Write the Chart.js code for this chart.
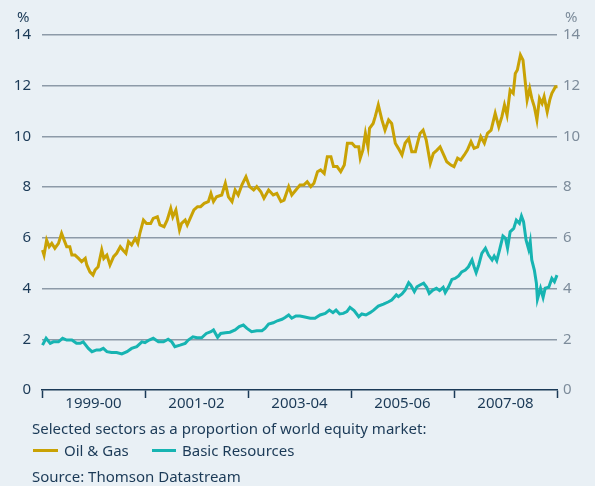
<!DOCTYPE html>
<html lang="en">
  <head>
    <meta charset="UTF-8" />
    <title>Selected sectors as a proportion of world equity market</title>
    <script src="https://cdn.jsdelivr.net/npm/chart.js"></script>
    <style>
      body {
        margin: 0;
        padding: 0;
        background: #e9f0f5;
        font-family: "Noto Sans", sans-serif;
        color: #1b3a57;
      }
      .wrap {
        position: relative;
        width: 595px;
        height: 486px;
        overflow: hidden;
      }
      canvas {
        position: absolute;
        left: 0;
        top: 0;
      }
      .pct {
        position: absolute;
        top: 6px;
        font-size: 15px;
      }
      .pct.left { left: 17px; color: #1b3a57; }
      .pct.right { left: 565px; color: #7d8c9b; }
      .note {
        position: absolute;
        font-size: 15px;
        line-height: 20px;
        white-space: nowrap;
      }
      .swatch {
        position: absolute;
        height: 3px;
        top: 449px;
      }
    </style>
  </head>
  <body>
    <div class="wrap">
      <canvas id="sectorChart" width="595" height="420"></canvas>
      <span class="pct left">%</span>
      <span class="pct right">%</span>
      <div class="note" style="left: 32px; top: 418px">Selected sectors as a proportion of world equity market:</div>
      <span class="swatch" style="left: 33px; width: 25px; background: #c9a204"></span>
      <div class="note" style="left: 64px; top: 440px">Oil &amp; Gas</div>
      <span class="swatch" style="left: 152px; width: 24px; background: #17b4b2"></span>
      <div class="note" style="left: 182px; top: 440px">Basic Resources</div>
      <div class="note" style="left: 32px; top: 466px">Source: Thomson Datastream</div>
    </div>

    <script>
      // decimal years
      const oilDates = [1999.01, 1999.04, 1999.09, 1999.14, 1999.19, 1999.25, 1999.32, 1999.38, 1999.43, 1999.48,
        1999.54, 1999.58, 1999.64, 1999.71, 1999.77, 1999.84, 1999.87, 1999.93, 1999.99, 2000.03,
        2000.09, 2000.16, 2000.20, 2000.26, 2000.32, 2000.39, 2000.45, 2000.52, 2000.57, 2000.63,
        2000.68, 2000.74, 2000.81, 2000.86, 2000.90, 2000.97, 2001.03, 2001.11, 2001.16, 2001.24,
        2001.29, 2001.37, 2001.43, 2001.50, 2001.54, 2001.60, 2001.67, 2001.71, 2001.78, 2001.82,
        2001.89, 2001.95, 2002.02, 2002.08, 2002.15, 2002.23, 2002.28, 2002.33, 2002.39, 2002.49,
        2002.56, 2002.62, 2002.69, 2002.75, 2002.81, 2002.88, 2002.96, 2003.03, 2003.11, 2003.17,
        2003.25, 2003.31, 2003.40, 2003.49, 2003.56, 2003.64, 2003.70, 2003.79, 2003.85, 2003.93,
        2004.01, 2004.08, 2004.15, 2004.22, 2004.28, 2004.35, 2004.41, 2004.48, 2004.54, 2004.61,
        2004.66, 2004.73, 2004.80, 2004.87, 2004.93, 2005.02, 2005.08, 2005.15, 2005.18, 2005.23,
        2005.28, 2005.33, 2005.36, 2005.43, 2005.47, 2005.53, 2005.60, 2005.66, 2005.73, 2005.79,
        2005.86, 2005.92, 2005.99, 2006.05, 2006.12, 2006.18, 2006.25, 2006.29, 2006.34, 2006.40,
        2006.46, 2006.54, 2006.60, 2006.67, 2006.73, 2006.80, 2006.86, 2006.94, 2007.00, 2007.07,
        2007.13, 2007.20, 2007.26, 2007.33, 2007.39, 2007.46, 2007.52, 2007.59, 2007.65, 2007.72,
        2007.80, 2007.87, 2007.93, 2007.98, 2008.03, 2008.09, 2008.15, 2008.19, 2008.23, 2008.29,
        2008.34, 2008.38, 2008.42, 2008.47, 2008.51, 2008.56, 2008.61, 2008.66, 2008.71, 2008.75,
        2008.81, 2008.86, 2008.90, 2008.97, 2009.01, 2009.05];
      const oilValues = [5.52, 5.32, 5.91, 5.65, 5.78, 5.59, 5.78, 6.18, 5.91, 5.65,
        5.65, 5.32, 5.32, 5.19, 5.06, 5.19, 4.93, 4.66, 4.53, 4.73,
        4.86, 5.52, 5.19, 5.32, 4.93, 5.26, 5.39, 5.65, 5.52, 5.39,
        5.85, 5.72, 5.98, 5.78, 6.18, 6.70, 6.57, 6.57, 6.77, 6.83,
        6.51, 6.44, 6.70, 7.16, 6.83, 7.10, 6.31, 6.57, 6.70, 6.51,
        6.83, 7.10, 7.23, 7.23, 7.36, 7.43, 7.75, 7.43, 7.62, 7.69,
        8.15, 7.62, 7.43, 7.89, 7.69, 8.08, 8.41, 8.02, 7.89, 8.02,
        7.82, 7.56, 7.89, 7.69, 7.75, 7.43, 7.49, 8.02, 7.69, 7.89,
        8.08, 8.08, 8.21, 8.02, 8.15, 8.61, 8.68, 8.54, 9.20, 9.20,
        8.81, 8.81, 8.61, 8.87, 9.73, 9.73, 9.59, 9.59, 9.14, 9.46,
        10.12, 9.59, 10.32, 10.51, 10.78, 11.24, 10.65, 10.25, 10.65, 10.51,
        9.73, 9.53, 9.27, 9.73, 9.92, 9.40, 9.40, 9.73, 10.12, 10.25,
        9.86, 8.94, 9.33, 9.46, 9.59, 9.27, 9.00, 8.87, 8.81, 9.14,
        9.07, 9.27, 9.46, 9.79, 9.53, 9.59, 9.99, 9.73, 10.12, 10.25,
        10.91, 10.38, 10.78, 11.24, 10.84, 11.83, 11.70, 12.48, 12.62, 13.21,
        13.01, 12.22, 11.44, 11.89, 11.50, 11.17, 10.65, 11.50, 11.30, 11.57,
        10.97, 11.44, 11.70, 11.96, 11.96, 11.83];

      const basicDates = [1999.01, 1999.08, 1999.16, 1999.22, 1999.32, 1999.40, 1999.48, 1999.58, 1999.67, 1999.74,
        1999.80, 1999.90, 1999.97, 2000.06, 2000.13, 2000.19, 2000.26, 2000.35, 2000.45, 2000.55,
        2000.65, 2000.74, 2000.84, 2000.94, 2001.00, 2001.08, 2001.16, 2001.26, 2001.36, 2001.45,
        2001.52, 2001.58, 2001.68, 2001.78, 2001.84, 2001.93, 2002.01, 2002.10, 2002.19, 2002.28,
        2002.33, 2002.41, 2002.47, 2002.56, 2002.65, 2002.75, 2002.83, 2002.91, 2002.98, 2003.07,
        2003.17, 2003.27, 2003.33, 2003.40, 2003.49, 2003.57, 2003.66, 2003.72, 2003.79, 2003.85,
        2003.93, 2004.01, 2004.08, 2004.21, 2004.30, 2004.40, 2004.50, 2004.58, 2004.65, 2004.71,
        2004.78, 2004.85, 2004.92, 2004.98, 2005.06, 2005.15, 2005.21, 2005.29, 2005.37, 2005.44,
        2005.53, 2005.63, 2005.73, 2005.79, 2005.88, 2005.92, 2005.99, 2006.05, 2006.12, 2006.16,
        2006.23, 2006.28, 2006.34, 2006.41, 2006.47, 2006.52, 2006.59, 2006.66, 2006.72, 2006.79,
        2006.83, 2006.89, 2006.96, 2007.02, 2007.09, 2007.15, 2007.22, 2007.28, 2007.35, 2007.39,
        2007.43, 2007.48, 2007.54, 2007.61, 2007.67, 2007.74, 2007.78, 2007.83, 2007.88, 2007.95,
        2008.00, 2008.04, 2008.09, 2008.16, 2008.21, 2008.27, 2008.31, 2008.35, 2008.40, 2008.45,
        2008.48, 2008.51, 2008.56, 2008.60, 2008.62, 2008.68, 2008.73, 2008.77, 2008.84, 2008.90,
        2008.95, 2009.00, 2009.05];
      const basicValues = [1.77, 2.04, 1.84, 1.90, 1.90, 2.04, 1.97, 1.97, 1.84, 1.84,
        1.90, 1.64, 1.51, 1.58, 1.58, 1.64, 1.51, 1.48, 1.48, 1.42,
        1.51, 1.64, 1.71, 1.90, 1.87, 1.97, 2.04, 1.90, 1.90, 2.00,
        1.90, 1.71, 1.77, 1.84, 1.97, 2.10, 2.06, 2.06, 2.23, 2.30,
        2.37, 2.08, 2.23, 2.26, 2.28, 2.37, 2.50, 2.56, 2.43, 2.30,
        2.34, 2.34, 2.43, 2.60, 2.65, 2.73, 2.79, 2.86, 2.96, 2.83,
        2.92, 2.92, 2.89, 2.83, 2.83, 2.96, 3.02, 3.15, 3.05, 3.15,
        3.00, 3.02, 3.09, 3.26, 3.13, 2.89, 3.00, 2.96, 3.05, 3.15,
        3.31, 3.39, 3.48, 3.55, 3.75, 3.68, 3.79, 3.94, 4.23, 4.14,
        3.88, 4.07, 4.14, 4.21, 4.05, 3.81, 3.94, 4.01, 3.92, 4.05,
        3.84, 4.05, 4.36, 4.40, 4.50, 4.66, 4.73, 4.86, 5.13, 4.86,
        4.63, 4.93, 5.39, 5.59, 5.32, 5.13, 5.28, 5.10, 5.49, 6.07,
        5.98, 5.59, 6.24, 6.37, 6.70, 6.57, 6.86, 6.64, 5.91, 5.55,
        5.85, 5.13, 4.73, 4.21, 3.58, 4.01, 3.65, 4.01, 4.05, 4.40,
        4.27, 4.53, 4.66];

      // label sits in the middle of each two-year block
      const periodLabels = { 2000: "1999-00", 2002: "2001-02", 2004: "2003-04", 2006: "2005-06", 2008: "2007-08" };
      const yTicks = [0, 2, 4, 6, 8, 10, 12, 14];

      const navy = "#1b3a57";
      const font = { family: "'Noto Sans', sans-serif", size: 15 };

      function toPoints(xs, ys) {
        return xs.map((x, i) => ({ x: x, y: ys[i] }));
      }

      new Chart(document.getElementById("sectorChart"), {
        type: "line",
        data: {
          datasets: [
            {
              label: "Oil & Gas",
              data: toPoints(oilDates, oilValues),
              borderColor: "#c9a204",
              borderWidth: 3,
              pointRadius: 0,
              tension: 0,
              clip: false,
            },
            {
              label: "Basic Resources",
              data: toPoints(basicDates, basicValues),
              borderColor: "#17b4b2",
              borderWidth: 3,
              pointRadius: 0,
              tension: 0,
              clip: false,
            },
          ],
        },
        options: {
          responsive: false,
          animation: false,
          layout: { padding: { top: 35, bottom: 0, left: 0, right: 0 } },
          plugins: { legend: { display: false }, tooltip: { enabled: false } },
          scales: {
            x: {
              type: "linear",
              min: 1999,
              max: 2009,
              afterBuildTicks: (s) => {
                s.ticks = [];
                for (let y = 1999; y <= 2009; y++) s.ticks.push({ value: y });
              },
              afterFit: (s) => { s.height = 30; },
              border: { display: true, color: navy, width: 1.5 },
              grid: {
                drawOnChartArea: false,
                tickLength: 8,
                tickWidth: 1.5,
                tickColor: (c) => (c.tick && c.tick.value % 2 === 1 ? navy : "rgba(0,0,0,0)"),
              },
              ticks: {
                autoSkip: false,
                maxRotation: 0,
                padding: -3,
                color: navy,
                font: font,
                callback: (v) => periodLabels[v] || "",
              },
            },
            y: {
              position: "left",
              min: 0,
              max: 14,
              afterBuildTicks: (s) => { s.ticks = yTicks.map((v) => ({ value: v })); },
              afterFit: (s) => { s.width = 42; },
              border: { display: false },
              grid: {
                color: (c) => (c.tick && c.tick.value === 0 ? "rgba(0,0,0,0)" : "#8d9aa8"),
                lineWidth: 1.5,
                drawTicks: false,
              },
              ticks: { padding: 11, color: navy, font: font },
            },
            y2: {
              position: "right",
              min: 0,
              max: 14,
              afterBuildTicks: (s) => { s.ticks = yTicks.map((v) => ({ value: v })); },
              afterFit: (s) => { s.width = 38; },
              border: { display: false },
              grid: { drawOnChartArea: false, drawTicks: false },
              ticks: { padding: 6, color: "#7d8c9b", font: font },
            },
          },
        },
      });
    </script>
  </body>
</html>
